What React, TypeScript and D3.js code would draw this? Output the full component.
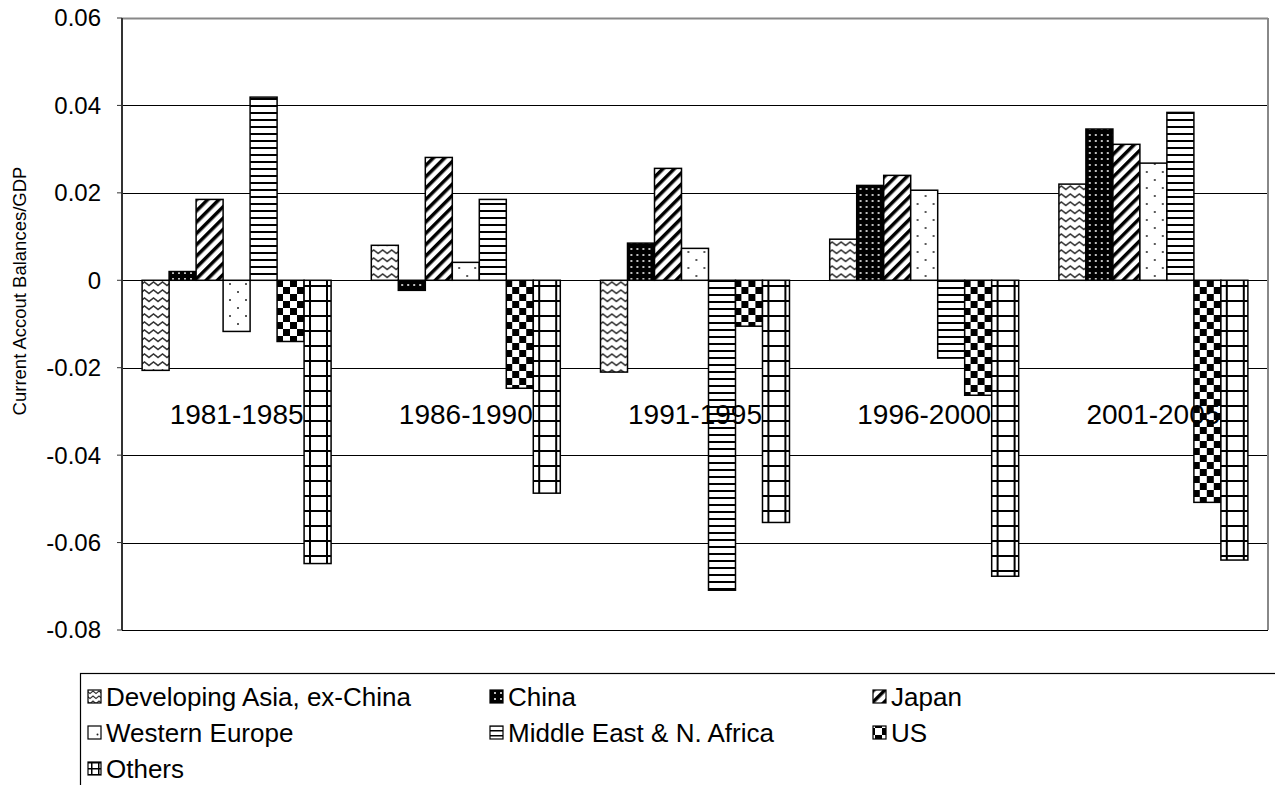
import React from "react";
import * as d3 from "d3";

const categories = ["1981-1985", "1986-1990", "1991-1995", "1996-2000", "2001-2005"];
const seriesNames = [
  "Developing Asia, ex-China",
  "China",
  "Japan",
  "Western Europe",
  "Middle East & N. Africa",
  "US",
  "Others",
];
const devAsia = [-0.0206, 0.008, -0.021, 0.0094, 0.022];
const china = [0.002, -0.0023, 0.0085, 0.0217, 0.0346];
const japan = [0.0185, 0.0281, 0.0256, 0.024, 0.0311];
const westEurope = [-0.0117, 0.0041, 0.0073, 0.0206, 0.0268];
const middleEast = [0.0419, 0.0185, -0.0709, -0.0178, 0.0384];
const us = [-0.014, -0.0247, -0.0105, -0.0263, -0.0508];
const others = [-0.0648, -0.0487, -0.0554, -0.0677, -0.064];
const seriesValues = [devAsia, china, japan, westEurope, middleEast, us, others];
const yTicks = [0.06, 0.04, 0.02, 0, -0.02, -0.04, -0.06, -0.08];
const patternIds = ["pWave", "pChina", "pJapan", "pWE", "pME", "pUS", "pOthers"];

const W = 1275;
const H = 785;
const plotLeft = 122;
const plotRight = 1268;
const plotTop = 18;
const plotBottom = 630;
const FONT = "Arial, 'Liberation Sans', Helvetica, sans-serif";

function Patterns() {
  return (
    <defs>
      <pattern id="pWave" patternUnits="userSpaceOnUse" width="9" height="8">
        <rect width="9" height="8" fill="#fff" />
        <path d="M-0.5,6 L4.5,2 L9.5,6" fill="none" stroke="#333" strokeWidth="1.6" />
      </pattern>
      <pattern id="pChina" patternUnits="userSpaceOnUse" width="6" height="6">
        <rect width="6" height="6" fill="#000" />
        <circle cx="3" cy="3" r="1" fill="#fff" />
      </pattern>
      <pattern id="pJapan" patternUnits="userSpaceOnUse" width="8" height="8" patternTransform="rotate(45)">
        <rect width="8" height="8" fill="#fff" />
        <rect x="0" y="0" width="3.5" height="8" fill="#000" />
      </pattern>
      <pattern id="pWE" patternUnits="userSpaceOnUse" width="16" height="16">
        <rect width="16" height="16" fill="#fff" />
        <circle cx="4" cy="4" r="1" fill="#222" />
        <circle cx="12" cy="12" r="1" fill="#222" />
      </pattern>
      <pattern id="pME" patternUnits="userSpaceOnUse" width="8" height="7">
        <rect width="8" height="7" fill="#fff" />
        <rect x="0" y="0" width="8" height="2" fill="#000" />
      </pattern>
      <pattern id="pUS" patternUnits="userSpaceOnUse" width="14" height="14">
        <rect width="14" height="14" fill="#fff" />
        <rect x="0" y="0" width="7" height="7" fill="#000" />
        <rect x="7" y="7" width="7" height="7" fill="#000" />
      </pattern>
      <pattern id="pOthers" patternUnits="userSpaceOnUse" width="17" height="15">
        <rect width="17" height="15" fill="#fff" />
        <rect x="0" y="0" width="17" height="2" fill="#000" />
        <rect x="0" y="0" width="2" height="15" fill="#000" />
      </pattern>
      <pattern id="lWave" patternUnits="userSpaceOnUse" width="6" height="5">
        <rect width="6" height="5" fill="#fff" />
        <path d="M-0.5,4 L3,1 L6.5,4" fill="none" stroke="#333" strokeWidth="1.2" />
      </pattern>
      <pattern id="lWE" patternUnits="userSpaceOnUse" width="13" height="13">
        <rect width="13" height="13" fill="#fff" />
        <circle cx="6.5" cy="6.5" r="1" fill="#222" />
      </pattern>
      <pattern id="lME" patternUnits="userSpaceOnUse" width="6" height="5">
        <rect width="6" height="5" fill="#fff" />
        <rect x="0" y="0" width="6" height="1.5" fill="#000" />
      </pattern>
      <pattern id="lOthers" patternUnits="userSpaceOnUse" width="7" height="6">
        <rect width="7" height="6" fill="#fff" />
        <rect x="0" y="0" width="7" height="1.5" fill="#000" />
        <rect x="0" y="0" width="1.5" height="6" fill="#000" />
      </pattern>
    </defs>
  );
}

const legendPatternIds = ["lWave", "pChina", "pJapan", "lWE", "lME", "pUS", "lOthers"];

export default function App() {
  const y = d3.scaleLinear().domain([-0.08, 0.06]).range([plotBottom, plotTop]);
  const x0 = d3.scaleBand<string>().domain(categories).range([plotLeft, plotRight]).paddingInner(0).paddingOuter(0);
  const x1 = d3
    .scaleBand<string>()
    .domain(seriesNames)
    .range([0, x0.bandwidth()])
    .paddingInner(0)
    .paddingOuter(0.745);

  const legendCols = [88, 490, 873];
  const legendRows = [697, 733, 769];
  const fmt = (t: number) => (t === 0 ? "0" : d3.format(".2f")(t).replace("\u2212", "-"));

  return (
    <svg
      width={W}
      height={H}
      style={{ position: "absolute", left: 0, top: 0, background: "#fff" }}
      fontFamily={FONT}
    >
      <Patterns />
      <rect x={0} y={0} width={W} height={H} fill="#fff" />
      {yTicks.map((t) => (
        <line
          key={"g" + t}
          x1={plotLeft}
          x2={plotRight}
          y1={Math.round(y(t)) + 0.5}
          y2={Math.round(y(t)) + 0.5}
          stroke={t === 0.06 ? "#888" : "#000"}
          strokeWidth={t === 0.06 ? 2 : 1}
        />
      ))}
      <line x1={plotRight} x2={plotRight} y1={plotTop} y2={plotBottom} stroke="#888" strokeWidth={2} />
      {categories.map((c, ci) => (
        <g key={c} transform={`translate(${x0(c)},0)`}>
          {seriesNames.map((s, si) => {
            const v = seriesValues[si][ci];
            const y0 = y(0);
            const yv = y(v);
            return (
              <rect
                key={s}
                x={x1(s)}
                y={Math.min(y0, yv)}
                width={x1.bandwidth()}
                height={Math.abs(yv - y0)}
                fill={`url(#${patternIds[si]})`}
                stroke="#000"
                strokeWidth={1.5}
              />
            );
          })}
        </g>
      ))}
      <line x1={plotLeft} x2={plotLeft} y1={plotTop} y2={plotBottom} stroke="#333" strokeWidth={2} />
      {yTicks.map((t) => (
        <line key={"t" + t} x1={plotLeft - 5} x2={plotLeft} y1={y(t)} y2={y(t)} stroke="#333" strokeWidth={1} />
      ))}
      {yTicks.map((t) => (
        <text key={"l" + t} x={101} y={y(t)} dy="0.35em" textAnchor="end" fontSize={24} fill="#000">
          {fmt(t)}
        </text>
      ))}
      <text transform={`translate(26,${291}) rotate(-90)`} textAnchor="middle" fontSize={18.5} fill="#000">
        Current Accout Balances/GDP
      </text>
      {categories.map((c) => (
        <text
          key={"c" + c}
          x={(x0(c) as number) + x0.bandwidth() / 2}
          y={414}
          dy="0.35em"
          textAnchor="middle"
          fontSize={28}
          fill="#000"
        >
          {c}
        </text>
      ))}
      <rect x={80.5} y={673.5} width={1300} height={300} fill="none" stroke="#000" strokeWidth={1.2} />
      {seriesNames.map((s, i) => {
        const col = i % 3;
        const row = Math.floor(i / 3);
        const lx = legendCols[col];
        const ly = legendRows[row];
        return (
          <g key={"leg" + s}>
            <rect
              x={lx}
              y={ly - 7}
              width={13}
              height={13}
              fill={`url(#${legendPatternIds[i]})`}
              stroke="#000"
              strokeWidth={1.2}
            />
            <text x={lx + 18} y={ly} dy="0.35em" fontSize={26} fill="#000">
              {s}
            </text>
          </g>
        );
      })}
    </svg>
  );
}
